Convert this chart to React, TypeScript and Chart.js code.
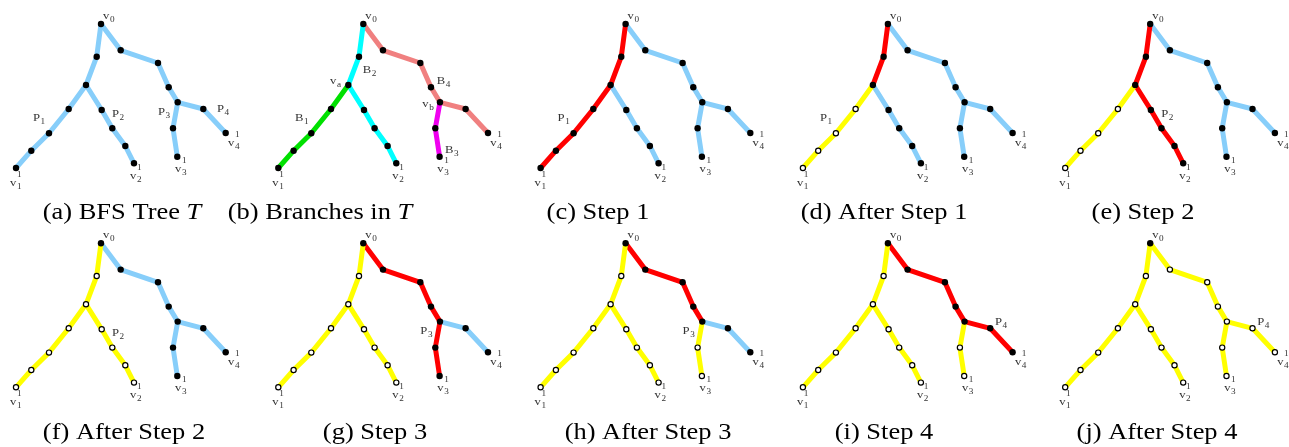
import { useEffect, useRef } from "react";
import { Chart, registerables } from "chart.js";

Chart.register(...registerables);

// ---- Tree layout (panel-local units) ----
const NODE_X = [101, 96.7, 86, 68.7, 49, 31.3, 16, 101.7, 112.3, 125.3, 134, 120.7, 158, 168.7, 177.7, 173, 177.3, 203.3, 225.7];
const NODE_Y = [24, 56.7, 85, 109, 133.3, 150.7, 168, 110, 128.3, 146, 163.3, 50.3, 63, 87.3, 102.3, 128.3, 156.7, 109, 133];
const EDGE_FROM = [0, 1, 2, 3, 4, 5, 2, 7, 8, 9, 0, 11, 12, 13, 14, 15, 14, 17];
const EDGE_TO = [1, 2, 3, 4, 5, 6, 7, 8, 9, 10, 11, 12, 13, 14, 15, 16, 17, 18];

// ---- Panels ----
const PANEL_COL = [0, 1, 2, 3, 4, 0, 1, 2, 3, 4];
const PANEL_ROW = [0, 0, 0, 0, 0, 1, 1, 1, 1, 1];
// edge states: t = tree, r = current step, y = done, c/g/s/m = branches
const EDGE_STATE = [
  "tttttttttttttttttt",
  "ccggggccccssssmmss",
  "rrrrrrtttttttttttt",
  "rryyyytttttttttttt",
  "rryyyyrrrrtttttttt",
  "yyyyyyyyyytttttttt",
  "yyyyyyyyyyrrrrrrtt",
  "yyyyyyyyyyrrrryytt",
  "yyyyyyyyyyrrrryyrr",
  "yyyyyyyyyyyyyyyyyy",
];
// open (visited) nodes per panel
const LEFT_DONE = [1, 2, 3, 4, 5, 6, 7, 8, 9, 10];
const OPEN_NODES: number[][] = [
  [],
  [],
  [],
  [3, 4, 5, 6],
  [3, 4, 5, 6],
  LEFT_DONE,
  LEFT_DONE,
  [...LEFT_DONE, 15, 16],
  [...LEFT_DONE, 15, 16],
  [...LEFT_DONE, 11, 12, 13, 14, 15, 16, 17, 18],
];
const CAPTION_MAIN = ["(a) BFS Tree ", "(b) Branches in ", "(c) Step 1", "(d) After Step 1", "(e) Step 2", "(f) After Step 2", "(g) Step 3", "(h) After Step 3", "(i) Step 4", "(j) After Step 4"];
const CAPTION_ITALIC = ["T", "T", "", "", "", "", "", "", "", ""];
const CAPTION_CENTER = [122, 320, 598, 884, 1143, 124, 375, 648, 884, 1157];

// labels: [base, sub, sup, localX, localBaseline]
type Lbl = [string, string, string, number, number];
const COMMON_LABELS: Lbl[] = [
  ["v", "0", "", 103, 18.5],
  ["v", "1", "1", 10, 186],
  ["v", "2", "1", 130, 179],
  ["v", "3", "1", 175, 172],
  ["v", "4", "1", 228, 146],
];
const P1: Lbl = ["P", "1", "", 33, 121];
const P2: Lbl = ["P", "2", "", 112, 117];
const P3: Lbl = ["P", "3", "", 158, 115];
const P4A: Lbl = ["P", "4", "", 217, 112];
const P4B: Lbl = ["P", "4", "", 208, 106];
const BRANCH_LABELS: Lbl[] = [
  ["B", "1", "", 32.7, 121],
  ["B", "2", "", 100.4, 73],
  ["B", "3", "", 182.7, 153],
  ["B", "4", "", 174.4, 84],
  ["v", "a", "", 67.7, 84],
  ["v", "b", "", 160, 107],
];
const PANEL_LABELS: Lbl[][] = [
  [P1, P2, P3, P4A],
  BRANCH_LABELS,
  [P1],
  [P1],
  [P2],
  [P2],
  [P3],
  [P3],
  [P4B],
  [P4B],
];

// ---- Styles ----
const PANEL_DX = 262.3;
const PANEL_DY = 219.3;
const CAPTION_BASE = [219, 438.5];
const COLORS: Record<string, string> = {
  t: "#87CEFA",
  r: "#FF0000",
  y: "#FFFF00",
  c: "#00FFFF",
  g: "#00E000",
  s: "#F08080",
  m: "#F000F0",
};
const TEXT_SX = 1.15;

export default function App() {
  const ref = useRef<HTMLCanvasElement | null>(null);
  useEffect(() => {
    const canvas = ref.current;
    if (!canvas) return;
    const datasets: any[] = [];
    for (let p = 0; p < 10; p++) {
      const ox = PANEL_COL[p] * PANEL_DX;
      const oy = PANEL_ROW[p] * PANEL_DY;
      const nodes = NODE_X.map((x, i) => ({ x: x + ox, y: NODE_Y[i] + oy }));
      const isOpen = nodes.map((_, i) => OPEN_NODES[p].includes(i));
      datasets.push({
        data: nodes,
        showLine: false,
        order: 0,
        pointRadius: isOpen.map((o) => (o ? 2.6 : 3.2)),
        pointBackgroundColor: isOpen.map((o) => (o ? "#ffffff" : "#000000")),
        pointBorderColor: "#000000",
        pointBorderWidth: isOpen.map((o) => (o ? 1.2 : 0)),
        clip: false,
      });
      for (let e = 0; e < EDGE_FROM.length; e++) {
        datasets.push({
          data: [nodes[EDGE_FROM[e]], nodes[EDGE_TO[e]]],
          showLine: true,
          order: 1,
          borderColor: COLORS[EDGE_STATE[p][e]],
          borderWidth: 5,
          borderCapStyle: "round",
          pointRadius: 0,
          clip: false,
        });
      }
    }

    const drawLabel = (ctx: CanvasRenderingContext2D, l: Lbl, ox: number, oy: number) => {
      const [base, sub, sup, lx, ly] = l;
      ctx.save();
      ctx.translate(lx + ox, ly + oy);
      ctx.scale(TEXT_SX, 1);
      ctx.fillStyle = "#333333";
      ctx.textBaseline = "alphabetic";
      ctx.textAlign = "left";
      ctx.font = '11px "Liberation Serif"';
      ctx.fillText(base, 0, 0);
      const w = ctx.measureText(base).width;
      ctx.font = '8px "Liberation Serif"';
      if (sub) ctx.fillText(sub, w + 0.5, 3);
      if (sup) ctx.fillText(sup, w + 0.5, -9);
      ctx.restore();
    };

    const textPlugin = {
      id: "treeText",
      afterDraw(chart: any) {
        const ctx: CanvasRenderingContext2D = chart.ctx;
        for (let p = 0; p < 10; p++) {
          const ox = PANEL_COL[p] * PANEL_DX;
          const oy = PANEL_ROW[p] * PANEL_DY;
          COMMON_LABELS.forEach((l) => drawLabel(ctx, l, ox, oy));
          PANEL_LABELS[p].forEach((l) => drawLabel(ctx, l, ox, oy));
          // caption
          ctx.save();
          ctx.fillStyle = "#000000";
          ctx.textBaseline = "alphabetic";
          ctx.textAlign = "left";
          ctx.font = '23px "Liberation Serif"';
          const w1 = ctx.measureText(CAPTION_MAIN[p]).width;
          ctx.font = 'italic 23px "Liberation Serif"';
          const w2 = CAPTION_ITALIC[p] ? ctx.measureText(CAPTION_ITALIC[p]).width : 0;
          const total = (w1 + w2) * TEXT_SX;
          ctx.translate(CAPTION_CENTER[p] - total / 2, CAPTION_BASE[PANEL_ROW[p]]);
          ctx.scale(TEXT_SX, 1);
          ctx.font = '23px "Liberation Serif"';
          ctx.fillText(CAPTION_MAIN[p], 0, 0);
          if (CAPTION_ITALIC[p]) {
            ctx.font = 'italic 23px "Liberation Serif"';
            ctx.fillText(CAPTION_ITALIC[p], w1, 0);
          }
          ctx.restore();
        }
      },
    };

    const chart = new Chart(canvas, {
      type: "scatter",
      data: { datasets },
      options: {
        animation: false,
        responsive: false,
        devicePixelRatio: 1,
        events: [],
        layout: { padding: 0, autoPadding: false },
        plugins: { legend: { display: false }, tooltip: { enabled: false } },
        scales: {
          x: { type: "linear", min: 0, max: 1289, display: false },
          y: { type: "linear", min: 0, max: 447, reverse: true, display: false },
        },
      },
      plugins: [textPlugin],
    });
    return () => chart.destroy();
  }, []);

  return (
    <div style={{ position: "absolute", left: 0, top: 0, width: 1289, height: 447, background: "#ffffff" }}>
      <canvas ref={ref} width={1289} height={447} style={{ display: "block" }} />
    </div>
  );
}
